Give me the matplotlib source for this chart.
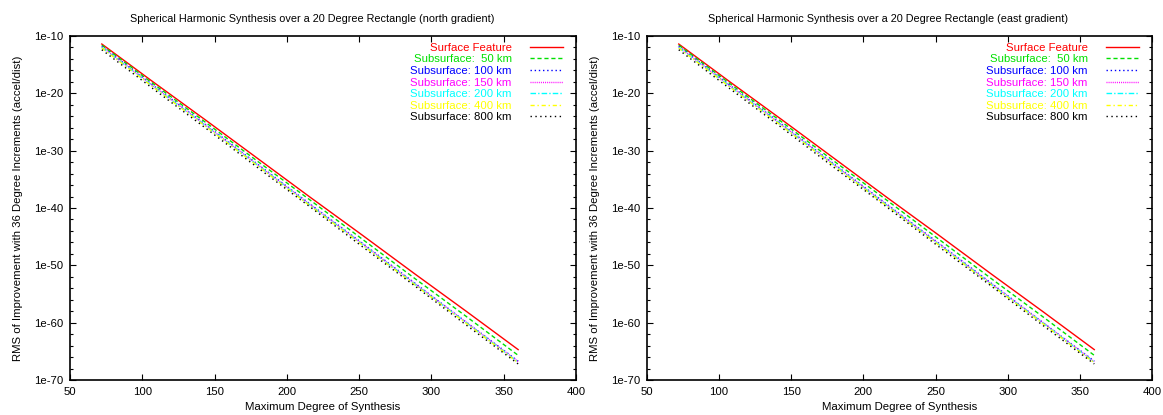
import numpy as np
import matplotlib
matplotlib.use("Agg")
import matplotlib.pyplot as plt
from matplotlib.ticker import FixedLocator, NullFormatter

plt.rcParams['font.family'] = ['Liberation Sans', 'DejaVu Sans']

# maximum degree of synthesis (36 degree increments)
degrees = [72, 108, 144, 180, 216, 252, 288, 324, 360]

# log10 of RMS improvement
surface = [-11.4, -18.1, -24.7, -31.4, -38.1, -44.7, -51.4, -58.0, -64.7]
sub_50 = [-11.6, -18.4, -25.1, -31.9, -38.6, -45.4, -52.2, -58.9, -65.7]
sub_100 = [-11.8, -18.7, -25.5, -32.4, -39.3, -46.1, -53.0, -59.9, -66.7]
sub_150 = [-11.9, -18.8, -25.6, -32.5, -39.4, -46.2, -53.1, -59.9, -66.8]
sub_200 = [-12.0, -18.9, -25.7, -32.6, -39.5, -46.3, -53.2, -60.0, -66.9]
sub_400 = [-12.1, -19.0, -25.8, -32.7, -39.6, -46.4, -53.3, -60.1, -67.0]
sub_800 = [-12.4, -19.3, -26.1, -33.0, -39.8, -46.7, -53.5, -60.4, -67.2]

labels = ["Surface Feature", "Subsurface:  50 km", "Subsurface: 100 km",
          "Subsurface: 150 km", "Subsurface: 200 km", "Subsurface: 400 km",
          "Subsurface: 800 km"]
series = [surface, sub_50, sub_100, sub_150, sub_200, sub_400, sub_800]
colors = ["#ff0000", "#00e000", "#0000ff", "#ff00ff", "#00ffff", "#ffff00", "#000000"]
styles = ["-", (0, (3, 2)), (0, (1, 2)), (0, (0.7, 0.8)), (0, (4, 1.5, 1, 1.5)),
          (0, (3, 2, 1, 2)), (0, (1, 2.5))]

titles = ["Spherical Harmonic Synthesis over a 20 Degree Rectangle (north gradient)",
          "Spherical Harmonic Synthesis over a 20 Degree Rectangle (east gradient)"]

yticks = [1e-10, 1e-20, 1e-30, 1e-40, 1e-50, 1e-60, 1e-70]
ytick_labels = ["1e-10", "1e-20", "1e-30", "1e-40", "1e-50", "1e-60", "1e-70"]
xticks = [50, 100, 150, 200, 250, 300, 350, 400]

fs = 8.2
fig = plt.figure(figsize=(11.63, 4.15), dpi=100)
W, H = 1163, 415
boxes = [(70, 576), (647, 1152)]
top, bottom = 36, 380

for (x0, x1), title in zip(boxes, titles):
    ax = fig.add_axes([x0 / W, 1 - bottom / H, (x1 - x0) / W, (bottom - top) / H])
    for vals, lab, c, ls in zip(series, labels, colors, styles):
        ax.plot(degrees, [10.0 ** v for v in vals], color=c, linestyle=ls, lw=1.0, label=lab)
    ax.set_yscale('log')
    ax.set_xlim(50, 400)
    ax.set_ylim(1e-70, 1e-10)
    ax.yaxis.set_major_locator(FixedLocator(yticks))
    ax.set_yticklabels(ytick_labels)
    ax.yaxis.set_minor_locator(FixedLocator([10.0 ** -e for e in range(12, 70, 2) if e % 10]))
    ax.yaxis.set_minor_formatter(NullFormatter())
    ax.set_xticks(xticks)
    ax.tick_params(which='both', direction='in', top=True, right=True, labelsize=fs, width=0.8)
    ax.tick_params(which='major', length=4, pad=5)
    ax.tick_params(which='minor', length=2.5)
    for sp in ax.spines.values():
        sp.set_linewidth(1.2)
    ax.set_title(title, fontsize=7.8, pad=10, x=0.478)
    ax.set_xlabel("Maximum Degree of Synthesis", fontsize=fs, labelpad=4)
    ax.set_ylabel("RMS of Improvement with 36 Degree Increments (accel/dist)", fontsize=fs, labelpad=8)
    ax.legend(loc='upper right', bbox_to_anchor=((x1 - 13 - x0) / (x1 - x0), 0.98),
              frameon=False, fontsize=fs, markerfirst=False,
              labelcolor='linecolor', handlelength=2.9, handletextpad=1.6,
              labelspacing=0.14, borderpad=0, borderaxespad=0)

fig.savefig("out.png", dpi=100)
